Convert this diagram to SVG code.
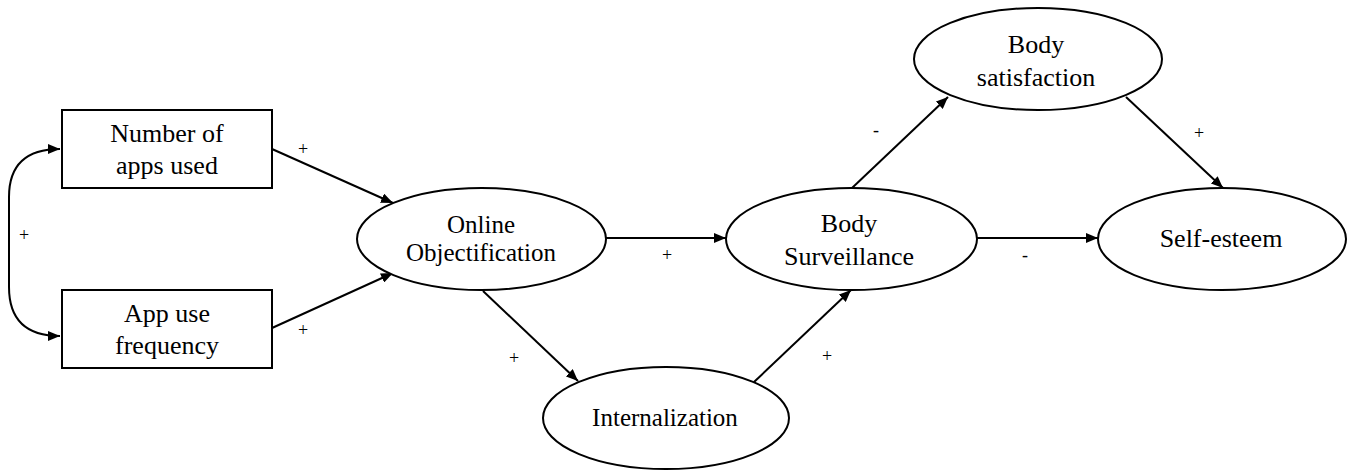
<svg xmlns="http://www.w3.org/2000/svg" width="1355" height="473" viewBox="0 0 1355 473">
<style>
.node{fill:#fff;stroke:#000;stroke-width:2}
.t{font-family:"Liberation Serif","Times New Roman",serif;font-size:26px;fill:#000;text-anchor:middle}
.s{font-size:25px}
.lbl{font-family:"Liberation Serif","Times New Roman",serif;font-size:18px;fill:#000;text-anchor:middle}
.edge{fill:none;stroke:#000;stroke-width:2}
</style>
<defs>
<marker id="ah" viewBox="0 0 12 10" refX="12" refY="5" markerWidth="12" markerHeight="10" markerUnits="userSpaceOnUse" orient="auto-start-reverse">
<path d="M0,0 L12,5 L0,10 Z" fill="#000"/>
</marker>
</defs>
<rect width="1355" height="473" fill="#fff"/>
<g id="connectors">
<path class="edge" d="M60,149 Q9,149 9,197 L9,287 Q9,336 60,336" marker-start="url(#ah)" marker-end="url(#ah)"/>
<line class="edge" x1="272" y1="149" x2="393" y2="203" marker-end="url(#ah)"/>
<line class="edge" x1="272" y1="328" x2="393" y2="273" marker-end="url(#ah)"/>
<line class="edge" x1="606" y1="238" x2="726" y2="238" marker-end="url(#ah)"/>
<line class="edge" x1="483" y1="291" x2="578" y2="381" marker-end="url(#ah)"/>
<line class="edge" x1="754" y1="382" x2="851" y2="290" marker-end="url(#ah)"/>
<line class="edge" x1="852" y1="188" x2="948" y2="97" marker-end="url(#ah)"/>
<line class="edge" x1="977" y1="238" x2="1098" y2="238" marker-end="url(#ah)"/>
<line class="edge" x1="1126" y1="97" x2="1223" y2="188" marker-end="url(#ah)"/>
<text class="lbl" x="24" y="241">+</text>
<text class="lbl" x="303" y="155">+</text>
<text class="lbl" x="303" y="336">+</text>
<text class="lbl" x="667" y="261">+</text>
<text class="lbl" x="514" y="364">+</text>
<text class="lbl" x="827" y="362">+</text>
<text class="lbl" x="876" y="136">-</text>
<text class="lbl" x="1025" y="261">-</text>
<text class="lbl" x="1199" y="139">+</text>
</g>
<g id="n-apps">
<rect class="node" x="62" y="110" width="210" height="78"/>
<text class="t" x="167" y="142">Number of</text>
<text class="t" x="167" y="174">apps used</text>
</g>
<g id="n-freq">
<rect class="node" x="62" y="290" width="210" height="78"/>
<text class="t" x="167" y="322">App use</text>
<text class="t" x="167" y="354">frequency</text>
</g>
<g id="n-online">
<ellipse class="node" cx="481.5" cy="239" rx="124.5" ry="51"/>
<text class="t s" x="481" y="233">Online</text>
<text class="t s" x="481" y="261">Objectification</text>
</g>
<g id="n-intern">
<ellipse class="node" cx="666" cy="418" rx="123" ry="51"/>
<text class="t s" x="665" y="426">Internalization</text>
</g>
<g id="n-surv">
<ellipse class="node" cx="851.5" cy="239" rx="125.5" ry="51"/>
<text class="t" x="849" y="232">Body</text>
<text class="t" x="849" y="265">Surveillance</text>
</g>
<g id="n-sat">
<ellipse class="node" cx="1038" cy="59" rx="124" ry="51"/>
<text class="t" x="1036" y="53">Body</text>
<text class="t" x="1036" y="86">satisfaction</text>
</g>
<g id="n-self">
<ellipse class="node" cx="1222" cy="239" rx="124" ry="51"/>
<text class="t" x="1221" y="247">Self-esteem</text>
</g>
</svg>
